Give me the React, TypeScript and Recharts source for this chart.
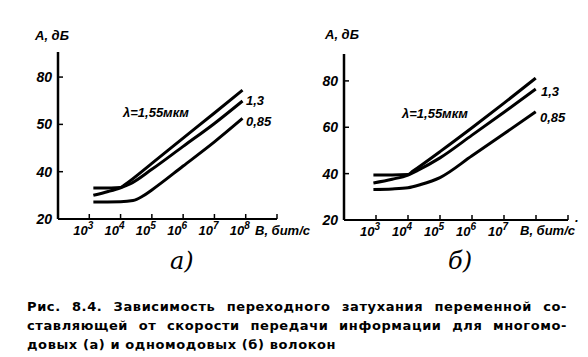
import { LineChart, Line, XAxis, YAxis } from "recharts"

// панель а) многомодовые волокна: B, бит/с -> A, дБ
const ratesA155 = [1350, 5000, 1e4, 14000, 1e5, 1e6, 1e7, 7.9e7]
const dbA155 = [33.1, 33.1, 33.3, 34.6, 43.5, 54.2, 64.8, 74.5]
const ratesA13 = [1350, 4000, 1e4, 20000, 1e5, 1e6, 1e7, 7.9e7]
const dbA13 = [30.0, 31.6, 33.2, 34.8, 41.0, 50.7, 60.4, 69.9]
const ratesA085 = [1350, 1e4, 25000, 50000, 1e5, 1e6, 1e7, 7.9e7]
const dbA085 = [27.2, 27.3, 27.8, 29.6, 32.3, 42.4, 52.6, 62.5]

// панель б) одномодовые волокна
const ratesB155 = [830, 3200, 1e4, 14000, 1e5, 1e6, 1e7, 9.8e7]
const dbB155 = [39.4, 39.4, 39.6, 41.0, 49.5, 59.8, 70.4, 81.2]
const ratesB13 = [830, 3200, 1e4, 20000, 1e5, 1e6, 1e7, 9.8e7]
const dbB13 = [36.0, 37.6, 39.4, 41.4, 46.8, 56.6, 66.5, 76.5]
const ratesB085 = [830, 3200, 1e4, 25000, 1e5, 1e6, 1e7, 9.8e7]
const dbB085 = [33.2, 33.4, 33.9, 35.3, 38.3, 47.7, 57.2, 66.7]

const xTicks = [1e3, 1e4, 1e5, 1e6, 1e7, 1e8, 1e9]
const xLabelsA = ["3", "4", "5", "6", "7", "8", ""]
const xLabelsB = ["3", "4", "5", "6", "7", "", ""]
const yTicks = [20, 40, 60, 80]
const yLabelsA = ["20", "40", "50", "80"]
const yLabelsB = ["20", "40", "60", "80"]

const toSeries = (rates: number[], db: number[]) => rates.map((rate, i) => ({ rate, db: db[i] }))

const labelFont = "'Liberation Sans', Arimo, sans-serif"
const italicBold = { fontFamily: labelFont, fontStyle: "italic", fontWeight: 700 }

function XTick(props: any, labels: string[]) {
  const { x, y, payload } = props
  const idx = xTicks.indexOf(payload.value)
  const exp = labels[idx]
  return (
    <g>
      <line x1={x} x2={x} y1={y} y2={y - 5} stroke="#000" strokeWidth={1.5} />
      {exp && (
        <text x={x - 6} y={y + 16} textAnchor="middle" fontSize={13} fill="#000" style={italicBold}>
          10<tspan dy={-6} fontSize={10}>{exp}</tspan>
        </text>
      )}
    </g>
  )
}

function YTick(props: any, labels: string[]) {
  const { x, y, payload } = props
  const idx = yTicks.indexOf(payload.value)
  return (
    <g>
      {idx > 0 && <line x1={x} x2={x + 5} y1={y} y2={y} stroke="#000" strokeWidth={1.5} />}
      <text x={x - 6} y={y + 5} textAnchor="end" fontSize={14} fill="#000" style={italicBold}>
        {labels[idx]}
      </text>
    </g>
  )
}

function Panel({ series, xLabels, yLabels, yWidth, yMax, right, bottom, top }: any) {
  return (
    <LineChart width={320} height={260} margin={{ top, right, bottom, left: 0 }}>
      <XAxis
        type="number"
        dataKey="rate"
        scale="log"
        domain={[100, 1e9]}
        ticks={xTicks}
        allowDataOverflow
        tickSize={0}
        tickMargin={0}
        height={30}
        axisLine={{ stroke: "#000", strokeWidth: 2 }}
        tickLine={false}
        tick={(p: any) => XTick(p, xLabels)}
        interval={0}
      />
      <YAxis
        type="number"
        domain={[20, yMax]}
        ticks={yTicks}
        allowDataOverflow
        width={yWidth}
        tickSize={0}
        tickMargin={0}
        axisLine={{ stroke: "#000", strokeWidth: 2.5 }}
        tickLine={false}
        tick={(p: any) => YTick(p, yLabels)}
        interval={0}
      />
      {series.map((s: any, i: number) => (
        <Line
          key={i}
          data={s}
          dataKey="db"
          type="monotone"
          stroke="#000"
          strokeWidth={3}
          dot={false}
          isAnimationActive={false}
        />
      ))}
    </LineChart>
  )
}

export default function App() {
  const seriesA = [toSeries(ratesA155, dbA155), toSeries(ratesA13, dbA13), toSeries(ratesA085, dbA085)]
  const seriesB = [toSeries(ratesB155, dbB155), toSeries(ratesB13, dbB13), toSeries(ratesB085, dbB085)]
  return (
    <div style={{ position: "fixed", left: 0, top: 0, width: 588, height: 357, background: "#fff", overflow: "hidden" }}>
      <div style={{ position: "absolute", left: 0, top: 0 }}>
        <Panel series={seriesA} xLabels={xLabelsA} yLabels={yLabelsA} yWidth={58} yMax={90.6} right={43} bottom={11} top={52} />
      </div>
      <div style={{ position: "absolute", left: 290, top: 0 }}>
        <Panel series={seriesB} xLabels={xLabelsB} yLabels={yLabelsB} yWidth={54} yMax={91.6} right={42} bottom={10} top={54} />
      </div>
      <svg width={588} height={290} style={{ position: "absolute", left: 0, top: 0, pointerEvents: "none" }}>
        <g fill="#000" fontSize={13} style={italicBold}>
          <text x={35} y={40}>A, дБ</text>
          <text x={325} y={39}>A, дБ</text>
          <text x={123} y={117} fontSize={13}>λ=1,55мкм</text>
          <text x={246} y={105}>1,3</text>
          <text x={246} y={126}>0,85</text>
          <text x={402} y={118} fontSize={13}>λ=1,55мкм</text>
          <text x={541} y={96}>1,3</text>
          <text x={540} y={122}>0,85</text>
          <text x={255} y={235}>B, бит/с</text>
          <text x={520} y={235}>B, бит/с</text>
          <text x={575} y={222}>.</text>
        </g>
        <g fill="#000" fontSize={24} style={{ fontFamily: "'DejaVu Serif', serif", fontStyle: "italic", fontWeight: 400 }}>
          <text x={170} y={269}>а)</text>
          <text x={448} y={269}>б)</text>
        </g>
      </svg>
      <div
        style={{
          position: "absolute",
          left: 27,
          top: 297,
          width: 540,
          fontFamily: "'DejaVu Sans', sans-serif",
          fontWeight: 700,
          fontSize: 13,
          lineHeight: "19px",
          letterSpacing: 0.6,
          color: "#000",
        }}
      >
        <div style={{ textAlign: "justify", textAlignLast: "justify" }}>
          Рис. 8.4. Зависимость переходного затухания переменной со-
        </div>
        <div style={{ textAlign: "justify", textAlignLast: "justify" }}>
          ставляющей от скорости передачи информации для многомо-
        </div>
        <div>довых (а) и одномодовых (б) волокон</div>
      </div>
    </div>
  )
}
